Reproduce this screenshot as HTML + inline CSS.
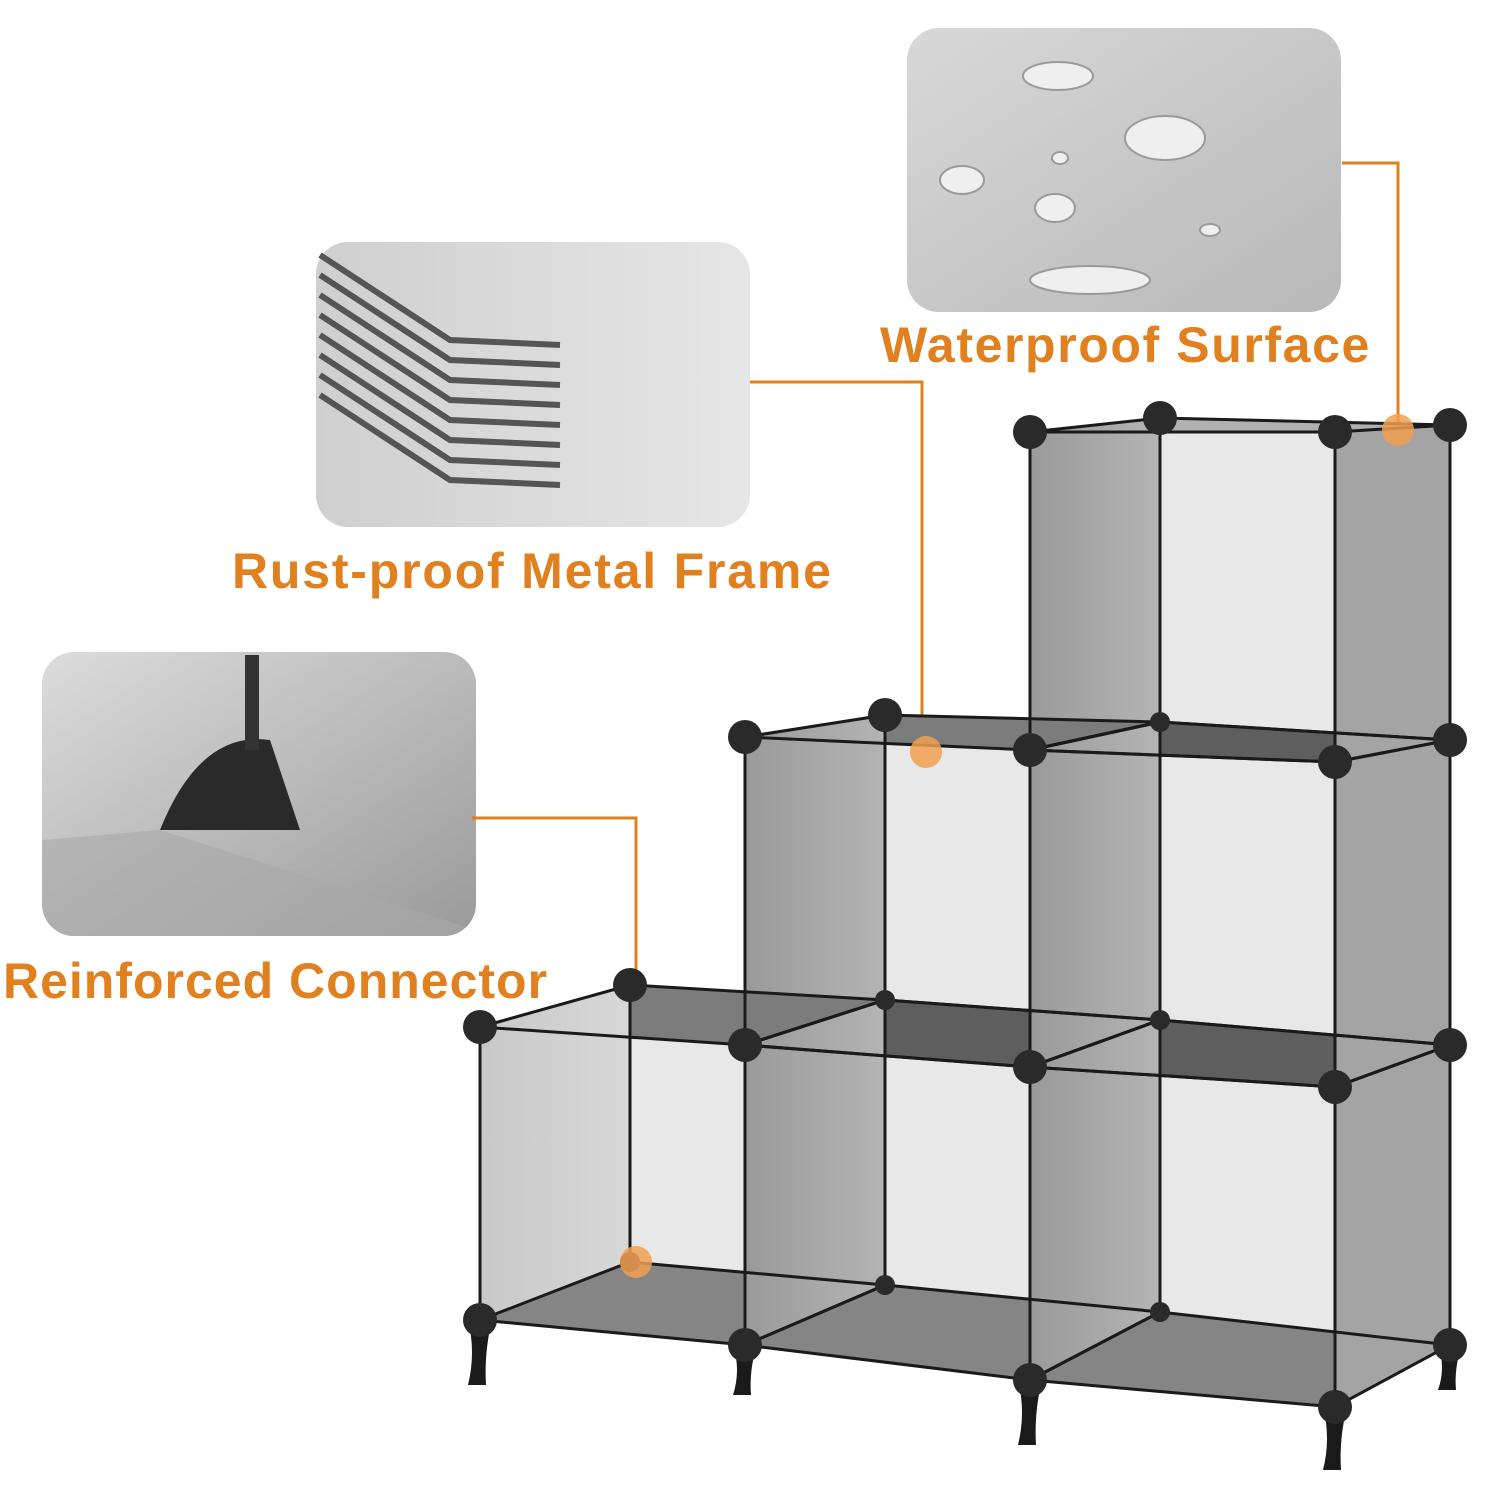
<!DOCTYPE html>
<html><head><meta charset="utf-8"><style>
html,body{margin:0;padding:0;background:#fff}
body{width:1500px;height:1500px;position:relative;overflow:hidden;font-family:"Liberation Sans",sans-serif}
.lbl{position:absolute;color:#E0801F;font-weight:bold;font-size:50px;white-space:nowrap;letter-spacing:1px}
</style></head><body>
<svg id="s" width="1500" height="1500" style="position:absolute;left:0;top:0">
<defs>
<linearGradient id="g1" x1="0" y1="0" x2="1" y2="1"><stop offset="0" stop-color="#d8d8d8"/><stop offset="1" stop-color="#b8b8b8"/></linearGradient>
<linearGradient id="g2" x1="0" y1="0" x2="1" y2="0"><stop offset="0" stop-color="#cfcfcf"/><stop offset="1" stop-color="#e6e6e6"/></linearGradient>
<linearGradient id="g3" x1="0" y1="0" x2="1" y2="1"><stop offset="0" stop-color="#dcdcdc"/><stop offset="1" stop-color="#9a9a9a"/></linearGradient>
<linearGradient id="side" x1="0" y1="0" x2="1" y2="0"><stop offset="0" stop-color="#9a9a9a"/><stop offset="1" stop-color="#b4b4b4"/></linearGradient>
<linearGradient id="side2" x1="0" y1="0" x2="1" y2="0"><stop offset="0" stop-color="#c8c8c8"/><stop offset="1" stop-color="#d8d8d8"/></linearGradient>
<clipPath id="c1"><rect x="42" y="652" width="434" height="284" rx="32"/></clipPath>
</defs>
<rect x="907" y="28" width="434" height="284" rx="32" fill="url(#g1)"/>
<g fill="#efefef" stroke="#9a9a9a" stroke-width="2">
<ellipse cx="1058" cy="76" rx="35" ry="14"/><ellipse cx="1165" cy="138" rx="40" ry="22"/><ellipse cx="962" cy="180" rx="22" ry="14"/><ellipse cx="1055" cy="208" rx="20" ry="14"/><ellipse cx="1090" cy="280" rx="60" ry="14"/><ellipse cx="1060" cy="158" rx="8" ry="6"/><ellipse cx="1210" cy="230" rx="10" ry="6"/>
</g>
<rect x="316" y="242" width="434" height="285" rx="32" fill="url(#g2)"/>
<g stroke="#555" stroke-width="6" fill="none">
<path d="M320 255 L450 340 L560 345"/><path d="M320 275 L450 360 L560 365"/><path d="M320 295 L450 380 L560 385"/><path d="M320 315 L450 400 L560 405"/><path d="M320 335 L450 420 L560 425"/><path d="M320 355 L450 440 L560 445"/><path d="M320 375 L450 460 L560 465"/><path d="M320 395 L450 480 L560 485"/>
</g>
<rect x="42" y="652" width="434" height="284" rx="32" fill="url(#g3)"/>
<g clip-path="url(#c1)">
<path d="M42 840 L160 830 L476 930 L476 936 L42 936 Z" fill="#a9a9a9" opacity="0.6"/>
<path d="M160 830 Q200 730 270 740 L300 830 Z" fill="#2a2a2a"/><rect x="245" y="655" width="14" height="95" fill="#333"/>
</g>
<g stroke="#E0801F" stroke-width="3" fill="none">
<polyline points="1342,163 1398,163 1398,430"/>
<polyline points="750,382 922,382 922,752"/>
<polyline points="472,818 636,818 636,1262"/>
</g>
<g id="cubes"></g>
<g fill="#F0A050" opacity="0.85">
<circle cx="1398" cy="430" r="16"/><circle cx="926" cy="752" r="16"/><circle cx="636" cy="1262" r="16"/>
</g>
</svg>
<div class="lbl" style="left:880px;top:316px;letter-spacing:1.6px">Waterproof Surface</div>
<div class="lbl" style="left:232px;top:542px;letter-spacing:1.8px">Rust-proof Metal Frame</div>
<div class="lbl" style="left:3px;top:952px">Reinforced Connector</div>
<script>
var C=[
[1030,1335,1160,1450, 432,432,418,425, 750,762,722,740, 1,1,0],
[745,1030,885,1160, 737,750,715,722, 1045,1067,1000,1020, 1,0,0],
[1030,1335,1160,1450, 750,762,722,740, 1067,1087,1020,1045, 0,1,0],
[480,745,630,885, 1027,1045,985,1000, 1320,1345,1262,1285, 1,0,1],
[745,1030,885,1160, 1045,1067,1000,1020, 1345,1380,1285,1312, 0,0,0],
[1030,1335,1160,1450, 1067,1087,1020,1045, 1380,1407,1312,1345, 0,1,0]];
var h='';
function P(a){return '<polygon points="'+a.join(' ')+'" ';}
C.forEach(function(c){
h+=P([c[2]+','+c[6],c[3]+','+c[7],c[3]+','+c[11],c[2]+','+c[10]])+'fill="#e8e8e8"/>';});
C.forEach(function(c,i){var fl=c[0],fr=c[1],bl=c[2],br=c[3];
h+=P([fl+','+c[8],bl+','+c[10],br+','+c[11],fr+','+c[9]])+'fill="'+(i>=3?'#858585':'#5e5e5e')+'"/>';
if(c[12])h+=P([fl+','+c[4],bl+','+c[6],br+','+c[7],fr+','+c[5]])+'fill="'+(i==0?'#b0b0b0':'#7c7c7c')+'"/>';
h+=P([fl+','+c[4],bl+','+c[6],bl+','+c[10],fl+','+c[8]])+'fill="url(#'+(c[14]?'side2':'side')+')"/>';
if(c[13])h+=P([fr+','+c[5],br+','+c[7],br+','+c[11],fr+','+c[9]])+'fill="#a4a4a4"/>';
});
C.forEach(function(c){var fl=c[0],fr=c[1],bl=c[2],br=c[3];
h+='<g stroke="#1a1a1a" stroke-width="3" fill="none">';
h+=P([fl+','+c[4],bl+','+c[6],br+','+c[7],fr+','+c[5]])+'/>';
h+=P([fl+','+c[8],bl+','+c[10],br+','+c[11],fr+','+c[9]])+'/>';
[[fl,4,8],[fr,5,9],[bl,6,10],[br,7,11]].forEach(function(p){h+='<line x1="'+p[0]+'" y1="'+c[p[1]]+'" x2="'+p[0]+'" y2="'+c[p[2]]+'"/>';});
h+='</g>';});
var legs=[[480,1320,65],[745,1345,50],[1030,1380,65],[1335,1407,63],[1450,1345,45]];
legs.forEach(function(p){var x=p[0],y=p[1],L=p[2];h+='<path d="M'+(x-12)+' '+y+' Q'+(x-4)+' '+(y+L*0.5)+' '+(x-12)+' '+(y+L)+' L'+(x+6)+' '+(y+L)+' Q'+(x+4)+' '+(y+L*0.5)+' '+(x+12)+' '+y+' Z" fill="#1a1a1a"/>';});
var dots=[[1030,432],[1335,432],[1160,418],[1450,425],[745,737],[885,715],[1030,750],[1335,762],[1450,740],[480,1027],[630,985],[745,1045],[1030,1067],[1335,1087],[1450,1045],[480,1320],[745,1345],[1030,1380],[1335,1407],[1450,1345]];
dots.forEach(function(d){h+='<circle cx="'+d[0]+'" cy="'+d[1]+'" r="17" fill="#2a2a2a"/>';});
[[1160,722],[885,1000],[1160,1020],[630,1262],[885,1285],[1160,1312]].forEach(function(d){h+='<circle cx="'+d[0]+'" cy="'+d[1]+'" r="10" fill="#2a2a2a"/>';});
document.getElementById('cubes').innerHTML=h;
</script>
</body></html>
